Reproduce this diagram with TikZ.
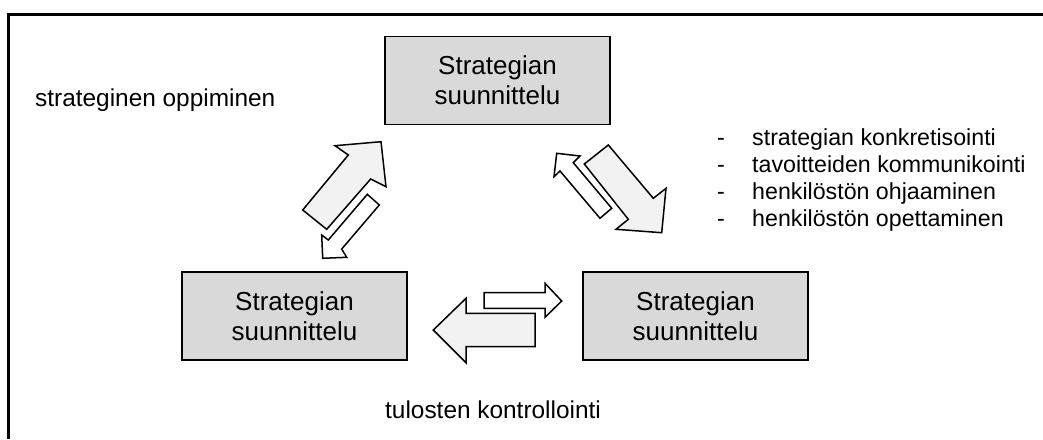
\documentclass[tikz,border=0pt]{standalone}
\usepackage{fontspec}
\setmainfont{Liberation Sans}
\definecolor{boxgray}{HTML}{D9D9D9}
\definecolor{arrowfill}{HTML}{F2F2F2}
\begin{document}
\begin{tikzpicture}[x=1pt,y=-1pt,
  stagebox/.style={draw=black, line width=1.7pt, fill=boxgray,
    minimum width=225pt, minimum height=88pt, inner sep=0pt,
    align=center, font=\fontsize{26}{30}\selectfont},
  bigarrow/.style={draw=black, line width=1.5pt, fill=arrowfill, line join=miter},
  smallarrow/.style={draw=black, line width=1.5pt, fill=white, line join=miter},
  plaintext/.style={font=\fontsize{23.2}{27}\selectfont, inner sep=0pt},
  sidetext/.style={font=\fontsize{24.4}{28}\selectfont, inner sep=0pt},
  frameline/.style={line width=2.3pt}
]
\useasboundingbox (0,0) rectangle (1043,439);

% open frame: top and left edges only
\draw[frameline] (8.5,439) -- (8.5,14.5) -- (1043,14.5);

% the three stages
\node[stagebox] (plan)    at (497.5,80.5) {Strategian\\suunnittelu};
\node[stagebox] (lower)   at (294.5,316)  {Strategian\\suunnittelu};
\node[stagebox] (right)   at (695.5,316)  {Strategian\\suunnittelu};

% block arrows between the lower-left stage and the top stage
\draw[bigarrow] (302.7,210) -- (348.3,155) -- (335,145.7) -- (381,141.7)
  -- (386,186.7) -- (370.7,179) -- (326.7,229.3) -- cycle;
\draw[smallarrow] (322.7,258.3) -- (321.7,235) -- (328.3,240) -- (367.3,194.3)
  -- (379.3,205) -- (341.7,249) -- (346.7,257.3) -- cycle;

% block arrows between the top stage and the right stage
\draw[bigarrow] (608.3,145) -- (584.3,164) -- (628.3,219.3) -- (616,229.3)
  -- (661.7,232.7) -- (666,188.3) -- (653.3,198.3) -- cycle;
\draw[smallarrow] (556.7,153.3) -- (580,156) -- (573.3,162.7) -- (611.7,208.3)
  -- (600,218.3) -- (560,171) -- (554,176.7) -- cycle;

% block arrows between the two lower stages
\draw[smallarrow] (484,292.7) -- (545,292.7) -- (545,283.3) -- (561.7,301)
  -- (545,317.3) -- (545,308.3) -- (484,308.3) -- cycle;
\draw[bigarrow] (433.3,330) -- (466,298.3) -- (466,313.3) -- (535,313.3)
  -- (535,346.7) -- (466,346.7) -- (466,362.7) -- cycle;

% side labels
\node[sidetext, anchor=base west] (learn)   at (35,106)  {strateginen oppiminen};
\node[sidetext, anchor=base west] (control) at (385,418) {tulosten kontrollointi};

% list beside the right-hand arrows
\node[plaintext, anchor=base west] (d1) at (717,145)   {-};
\node[plaintext, anchor=base west] (d2) at (717,172.3) {-};
\node[plaintext, anchor=base west] (d3) at (717,199.6) {-};
\node[plaintext, anchor=base west] (d4) at (717,226.9) {-};
\node[plaintext, anchor=base west] (l1) at (752,145)   {strategian konkretisointi};
\node[plaintext, anchor=base west] (l2) at (752,172.3) {tavoitteiden kommunikointi};
\node[plaintext, anchor=base west] (l3) at (752,199.6) {henkilöstön ohjaaminen};
\node[plaintext, anchor=base west] (l4) at (752,226.9) {henkilöstön opettaminen};
\end{tikzpicture}
\end{document}
